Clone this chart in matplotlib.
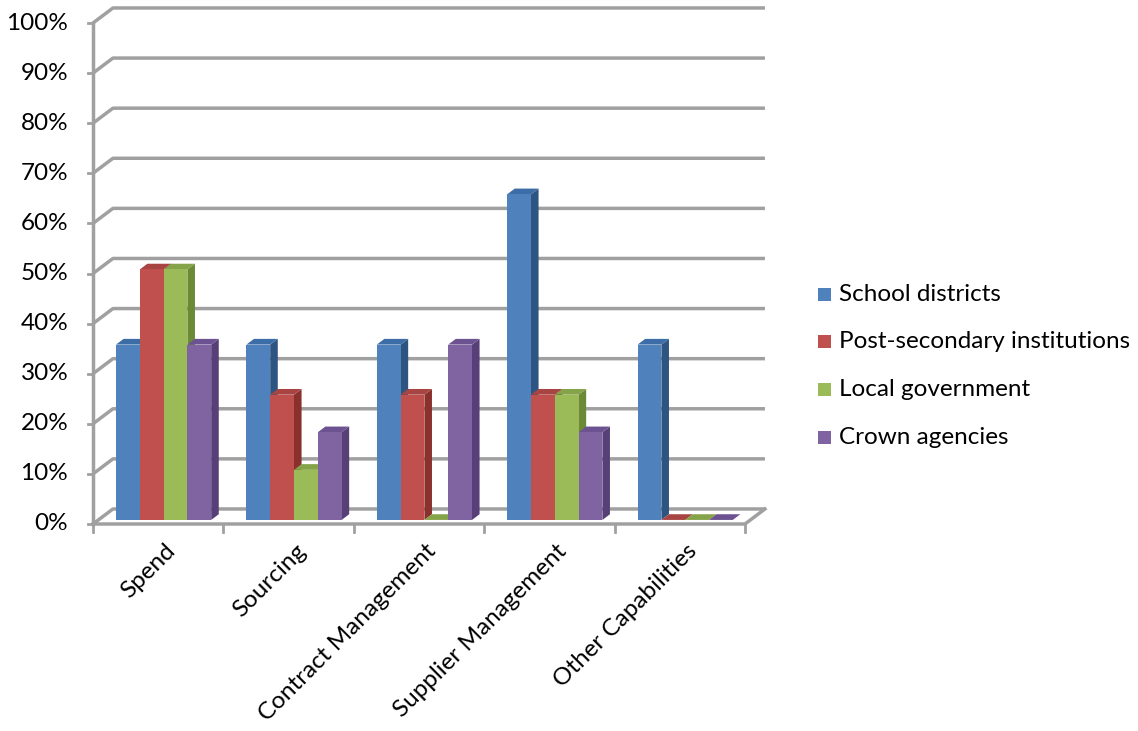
import matplotlib
matplotlib.use('Agg')
import matplotlib.pyplot as plt
from matplotlib.patches import Polygon, Rectangle

plt.rcParams['font.family'] = ['Lato', 'DejaVu Sans']

# ========================
# 数据
# ========================
categories = ['Spend', 'Sourcing', 'Contract Management', 'Supplier Management', 'Other Capabilities']
series_names = ['School districts', 'Post-secondary institutions', 'Local government', 'Crown agencies']
school_districts = [35, 35, 35, 65, 35]
post_secondary = [50, 25, 25, 25, 0]
local_government = [50, 10, 0, 25, 0]
crown_agencies = [35, 17.5, 35, 17.5, 0]
y_ticks = [0, 10, 20, 30, 40, 50, 60, 70, 80, 90, 100]

series_values = [school_districts, post_secondary, local_government, crown_agencies]
front_colors = ['#4F81BD', '#C0504D', '#9BBB59', '#8064A2']
side_colors = ['#2E5482', '#8A302D', '#6A8A35', '#574078']
top_colors = ['#3D6DA6', '#A84542', '#85A348', '#6D5291']

# 3D 偏移 (数据单位)
DX = 0.153   # 整体深度 x 偏移
DY = 3.0     # 整体深度 y 偏移
F0, F1 = 0.27, 0.65  # 柱子前后面的深度比例
BAR_W = 0.1825
GRID = '#A0A0A0'
FS = 17.5

fig = plt.figure(figsize=(11.38, 7.31), dpi=100)
ax = fig.add_axes([0, 0, 1, 1])
# 像素映射: x 0 -> 93px, 每类 130.4px; y 0% -> 524px, 每 1% 5.01px
ax.set_xlim(-93 / 130.4, (1138 - 93) / 130.4)
ax.set_ylim((524 - 731) / 5.01, 524 / 5.01)
ax.axis('off')

n = len(categories)


def pt(x, y, f):
    return (x + f * DX, y + f * DY)


# 背景网格 (后墙 + 左侧斜线)
for t in y_ticks:
    ax.plot([0, DX, n + DX], [t, t + DY, t + DY], color=GRID, lw=2.5, solid_capstyle='butt', zorder=1)
    ax.plot([-0.04, 0], [t, t], color=GRID, lw=2, zorder=1)
    ax.text(-0.19, t, f'{t}%', ha='right', va='center', fontsize=FS, color='#000000')

# 左轴
ax.plot([0, 0], [0, 100], color=GRID, lw=2.5, zorder=1)
# 底面前沿和右边
ax.plot([0, n, n + DX], [0, 0, DY], color=GRID, lw=2.5, zorder=1)
for i in range(n + 1):
    ax.plot([i, i], [0, -1.6], color=GRID, lw=2, zorder=1)

# 3D 柱子
z = 2
for i in range(n):
    for j, vals in enumerate(series_values):
        h = vals[i]
        x0 = i + 0.5 - 2 * BAR_W + j * BAR_W
        x1 = x0 + BAR_W
        side = [pt(x1, 0, F0), pt(x1, 0, F1), pt(x1, h, F1), pt(x1, h, F0)]
        top = [pt(x0, h, F0), pt(x1, h, F0), pt(x1, h, F1), pt(x0, h, F1)]
        front = [pt(x0, 0, F0), pt(x1, 0, F0), pt(x1, h, F0), pt(x0, h, F0)]
        ax.add_patch(Polygon(side, closed=True, facecolor=side_colors[j], edgecolor='none', zorder=z))
        ax.add_patch(Polygon(top, closed=True, facecolor=top_colors[j], edgecolor='none', zorder=z))
        ax.add_patch(Polygon(front, closed=True, facecolor=front_colors[j], edgecolor='none', zorder=z))
        z += 1

# 类别标签
for i, c in enumerate(categories):
    ax.text(i + 0.55, -3.2, c, rotation=45, ha='right', va='top', rotation_mode='anchor', fontsize=FS)

# 图例
legend_y = [45.8, 36.4, 26.8, 17.2]
for j, name in enumerate(series_names):
    ax.add_patch(Rectangle((5.56, legend_y[j] - 1.3), 0.1, 2.6, facecolor=front_colors[j], edgecolor='none'))
    ax.text(5.72, legend_y[j], name, ha='left', va='center', fontsize=FS)

fig.savefig('out.png', dpi=100)
